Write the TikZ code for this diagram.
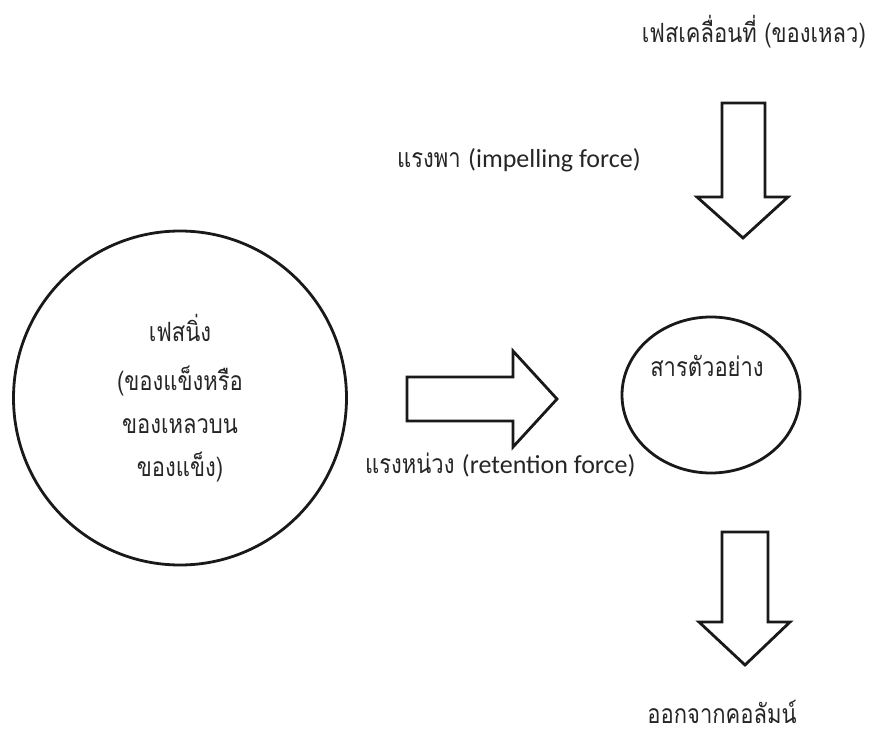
\documentclass[tikz,border=0pt]{standalone}
\usepackage{fontspec}
\usetikzlibrary{shapes.geometric}
\setmainfont[Script=Thai, FakeStretch=0.83]{Loma}
\newfontfamily\lat{Carlito}
\begin{document}
\begin{tikzpicture}[x=1pt,y=-1pt,
  outline/.style={draw=black!90, line width=2.8pt, line join=miter, fill=white},
  lbl/.style={font=\fontsize{26.5}{30}\selectfont, inner sep=0pt, text=black!85}]
\useasboundingbox (0,0) rectangle (873,735);
\fill[white] (0,0) rectangle (873,735);

% stationary phase circle
\node[outline, ellipse, minimum width=333pt, minimum height=334pt, inner sep=0pt] (stat) at (180,398) {};
\node[lbl] (s1) at (180,328) {เฟสนิ่ง};
\node[lbl] (s2) at (180,381) {(ของแข็งหรือ};
\node[lbl] (s3) at (180,426) {ของเหลวบน};
\node[lbl] (s4) at (180,467) {ของแข็ง)};

% sample ellipse
\node[outline, ellipse, minimum width=178pt, minimum height=156pt, inner sep=0pt] (samp) at (711,395) {};
\node[lbl] (st) at (707,366) {สารตัวอย่าง};

% top arrow (mobile phase)
\draw[outline] (722,103) -- (765,103) -- (765,197) -- (788,197) -- (743,238) -- (697,197) -- (722,197) -- cycle;
% right arrow (retention)
\draw[outline] (407,377) -- (513,377) -- (513,351) -- (557,399) -- (513,447) -- (513,421) -- (407,421) -- cycle;
% bottom arrow (out of column)
\draw[outline] (722,532) -- (768,532) -- (768,622) -- (790,622) -- (745,665) -- (699,622) -- (722,622) -- cycle;

% labels
\node[lbl, anchor=east] (mob) at (866,32) {เฟสเคลื่อนที่ (ของเหลว)};
\node[lbl, anchor=west] (imp) at (397,160) {แรงพา {\lat\fontsize{26}{28}\selectfont(impelling force)}};
\node[lbl, anchor=west] (ret) at (365,465) {แรงหน่วง {\lat\fontsize{26}{28}\selectfont(retention force)}};
\node[lbl] (out) at (722,712) {ออกจากคอลัมน์};
\end{tikzpicture}
\end{document}
